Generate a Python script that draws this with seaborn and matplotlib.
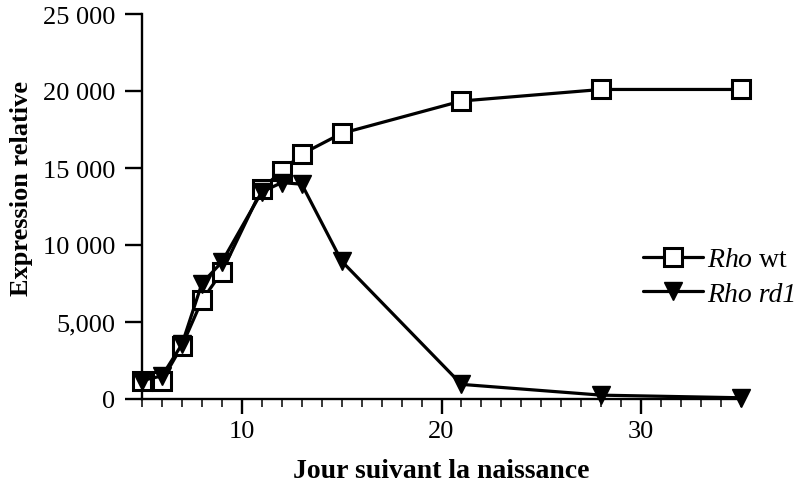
import matplotlib
matplotlib.use("Agg")
import matplotlib.pyplot as plt
import seaborn as sns
import pandas as pd
from matplotlib.ticker import FixedLocator, FixedFormatter, MultipleLocator

# Days after birth and relative expression for both genotypes
days_wt = [5, 6, 7, 8, 9, 11, 12, 13, 15, 21, 28, 35]
expr_wt = [1200, 1200, 3450, 6400, 8250, 13650, 14800, 15900, 17250, 19350, 20100, 20100]

days_rd1 = [5, 6, 7, 8, 9, 11, 12, 13, 15, 21, 28, 35]
expr_rd1 = [1200, 1500, 3550, 7500, 8900, 13450, 14050, 13950, 8950, 950, 250, 80]

y_ticks = [0, 5000, 10000, 15000, 20000, 25000]
y_tick_labels = ["0", "5,000", "10 000", "15 000", "20 000", "25 000"]
x_ticks = [10, 20, 30]

sns.set_theme(style="white")
plt.rcParams["font.family"] = ["Liberation Serif", "DejaVu Serif"]
plt.rcParams["mathtext.fontset"] = "custom"
plt.rcParams["mathtext.it"] = "Liberation Serif:italic"
plt.rcParams["mathtext.rm"] = "Liberation Serif"

df_wt = pd.DataFrame({"jour": days_wt, "expr": expr_wt})
df_rd1 = pd.DataFrame({"jour": days_rd1, "expr": expr_rd1})

fig = plt.figure(figsize=(7.98, 4.89), dpi=100)
ax = fig.add_axes([142 / 798, 1 - 400 / 489, (741 - 142) / 798, (400 - 15) / 489])

sns.lineplot(data=df_wt, x="jour", y="expr", ax=ax, color="black", linewidth=2.3,
             marker="s", markersize=13, markerfacecolor="white",
             markeredgecolor="black", markeredgewidth=2.2,
             label=r"$\mathit{Rho}$ wt", clip_on=False, zorder=3)
sns.lineplot(data=df_rd1, x="jour", y="expr", ax=ax, color="black", linewidth=2.3,
             marker="v", markersize=13, markerfacecolor="black",
             markeredgecolor="black", markeredgewidth=1.0,
             label="Rho rd1", clip_on=False, zorder=4)

ax.set_xlim(5, 35)
ax.set_ylim(0, 25000)

ax.yaxis.set_major_locator(FixedLocator(y_ticks))
ax.yaxis.set_major_formatter(FixedFormatter(y_tick_labels))
ax.xaxis.set_major_locator(FixedLocator(x_ticks))
ax.xaxis.set_minor_locator(MultipleLocator(1))

for side in ["top", "right"]:
    ax.spines[side].set_visible(False)
for side in ["left", "bottom"]:
    ax.spines[side].set_color("black")
    ax.spines[side].set_linewidth(1.7)

ax.tick_params(axis="y", which="major", direction="out", length=12, width=1.7,
               left=True, labelsize=19, colors="black", pad=7)
ax.tick_params(axis="x", which="major", direction="out", length=11, width=1.7,
               bottom=True, labelsize=19, colors="black", pad=4)
ax.tick_params(axis="x", which="minor", direction="out", length=6, width=1.3,
               bottom=True)

ax.set_xlabel("Jour suivant la naissance", fontsize=20, fontweight="bold",
              color="black", labelpad=12)
ax.set_ylabel("Expression relative", fontsize=19, fontweight="bold",
              color="black")
ax.yaxis.set_label_coords(-0.182, 0.55)

leg = ax.legend(loc="upper left", bbox_to_anchor=(501 / 599, 1 - 233 / 385),
                frameon=False, fontsize=20, handlelength=2.15,
                handletextpad=0.15, labelspacing=0.32, borderaxespad=0,
                borderpad=0)
for t in leg.get_texts():
    t.set_color("black")
leg.get_texts()[1].set_fontstyle("italic")

fig.savefig("out.png", dpi=100, facecolor="white")
